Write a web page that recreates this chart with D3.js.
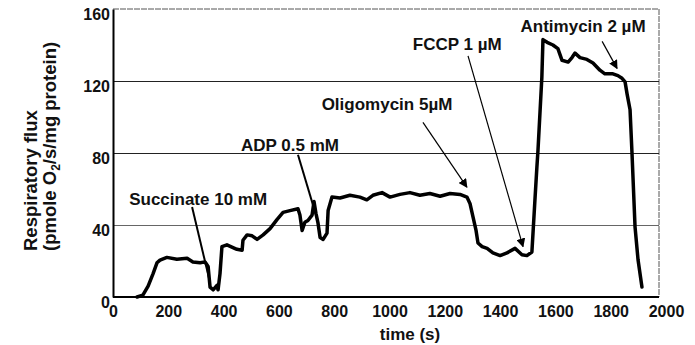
<!DOCTYPE html>
<html>
<head>
<meta charset="utf-8">
<script src="https://cdn.jsdelivr.net/npm/d3@7"></script>
<style>
  body { margin: 0; background: #fff; }
  svg { display: block; font-family: Arial, "Liberation Sans", sans-serif; }
  .tick text { font-weight: bold; }
</style>
</head>
<body>
<svg id="chart" width="695" height="345"></svg>
<script>
// trace: time (s) and respiratory flux
const times = [87, 108, 127, 145, 159, 170, 195, 231, 268, 289, 315, 333, 344, 351, 362, 376, 380, 387, 394, 412,
  448, 467, 470, 485, 503, 521, 543, 568, 593, 615, 640, 669, 676, 684, 694, 705, 720, 727, 734, 741,
  749, 760, 774, 778, 792, 821, 857, 893, 918, 940, 973, 1002, 1038, 1074, 1110, 1146, 1183, 1219, 1255, 1280,
  1291, 1302, 1313, 1320, 1335, 1353, 1374, 1400, 1425, 1454, 1479, 1497, 1515, 1519, 1526, 1533, 1537, 1551, 1555, 1570,
  1591, 1609, 1624, 1646, 1660, 1671, 1689, 1714, 1736, 1761, 1779, 1808, 1826, 1841, 1852, 1859, 1870, 1877, 1888, 1899, 1913];
const flux = [0, 1, 6, 13, 19, 20.5, 22, 21, 21.5, 19.5, 19, 19.5, 17, 5.5, 4, 6.5, 4, 13, 28, 29,
  26.5, 26, 31.5, 34.5, 34, 32, 34.5, 38, 43, 47, 48, 49, 45.5, 37, 41.5, 42.5, 45.5, 53, 46.5, 41.5,
  33, 32, 35.5, 48, 55.5, 55, 56.5, 55.5, 54, 56.5, 58, 55.5, 57, 58, 56.5, 57.5, 56, 57.5, 57, 55.5,
  52, 44.5, 37, 30, 28, 27, 24.5, 23, 24.5, 27, 23.5, 23, 25, 35.5, 54, 72, 81.5, 122, 143, 141.5,
  140, 138, 131.5, 130.5, 133, 135.5, 133, 132, 130, 126, 124, 124, 123, 121.5, 119.5, 113, 104, 80, 39, 20.5, 5.5];

const xTicks = [0, 200, 400, 600, 800, 1000, 1200, 1400, 1600, 1800, 2000];
const yTicks = [0, 40, 80, 120, 160];

// annotations: label position and arrow from/to, all in data units
const labels = ["Succinate 10 mM", "ADP 0.5 mM", "Oligomycin 5\u00b5M", "FCCP 1 \u00b5M", "Antimycin 2 \u00b5M"];
const labelAt = [[308, 51], [640, 81], [991, 104], [1245, 137], [1700, 147]];
const arrowFrom = [[286, 50], [669, 79], [1121, 97], [1284, 134], [1769, 142]];
const arrowTo = [[351, 8], [741, 42], [1280, 61], [1483, 28], [1823, 127]];
const arrowHead = [false, false, true, true, true];

const svg = d3.select('#chart');
const x = d3.scaleLinear().domain([0, 2000]).range([113, 666]);
const y = d3.scaleLinear().domain([0, 160]).range([297, 9]);
const plotRight = 659;

// frame + grid
svg.append('line').attr('x1', x(0)).attr('x2', plotRight).attr('y1', y(160)).attr('y2', y(160))
  .attr('stroke', '#555').attr('stroke-width', 1).attr('stroke-dasharray', '6,1');
svg.append('line').attr('x1', plotRight).attr('x2', plotRight).attr('y1', y(160)).attr('y2', y(0))
  .attr('stroke', '#555').attr('stroke-width', 1).attr('stroke-dasharray', '6,1');
svg.selectAll('.grid').data([40, 80, 120]).enter().append('line')
  .attr('x1', x(0)).attr('x2', plotRight)
  .attr('y1', d => Math.round(y(d)) + 0.5).attr('y2', d => Math.round(y(d)) + 0.5)
  .attr('stroke', d => d === 40 ? '#666' : '#222').attr('stroke-width', 1.2);

// axes
const xAxis = svg.append('g').attr('transform', `translate(0,${y(0)})`)
  .call(d3.axisBottom(x).tickValues(xTicks).tickSize(0).tickPadding(9).tickFormat(d3.format('d')));
xAxis.select('.domain').attr('d', `M${x(0)},0H${plotRight}`).attr('stroke-width', 2);
xAxis.selectAll('text').attr('font-size', 16).attr('fill', '#111');

const yAxis = svg.append('g').attr('transform', `translate(${x(0)},0)`)
  .call(d3.axisLeft(y).tickValues(yTicks).tickSize(0).tickPadding(3));
yAxis.select('.domain').attr('stroke-width', 2);
yAxis.selectAll('text').attr('font-size', 16).attr('fill', '#111').attr('dy', '0.65em');

// trace
const pts = times.map((t, i) => [t, flux[i]]);
svg.append('path').datum(pts)
  .attr('d', d3.line().x(d => x(d[0])).y(d => y(d[1])).curve(d3.curveLinear))
  .attr('fill', 'none').attr('stroke', '#000').attr('stroke-width', 3.5)
  .attr('stroke-linejoin', 'round').attr('stroke-linecap', 'round');

// arrows
svg.append('defs').append('marker').attr('id', 'head')
  .attr('viewBox', '0 0 10 10').attr('refX', 9).attr('refY', 5)
  .attr('markerWidth', 9).attr('markerHeight', 9).attr('markerUnits', 'userSpaceOnUse')
  .attr('orient', 'auto')
  .append('path').attr('d', 'M0,0L10,5L0,10z').attr('fill', '#000');

labels.forEach((lab, i) => {
  svg.append('line')
    .attr('x1', x(arrowFrom[i][0])).attr('y1', y(arrowFrom[i][1]))
    .attr('x2', x(arrowTo[i][0])).attr('y2', y(arrowTo[i][1]))
    .attr('stroke', '#000').attr('stroke-width', arrowHead[i] ? 1.2 : 2)
    .attr('marker-end', arrowHead[i] ? 'url(#head)' : null);
  svg.append('text')
    .attr('x', x(labelAt[i][0])).attr('y', y(labelAt[i][1]))
    .attr('text-anchor', 'middle').attr('font-size', 17).attr('font-weight', 'bold')
    .attr('fill', '#111').text(lab);
});

// axis titles
svg.append('text').attr('x', 410).attr('y', 340).attr('text-anchor', 'middle')
  .attr('font-size', 17).attr('font-weight', 'bold').attr('fill', '#111').text('time (s)');

const yt = svg.append('g').attr('font-size', 18.5).attr('font-weight', 'bold').attr('fill', '#111');
yt.append('text').attr('transform', 'translate(37,251) rotate(-90)').text('Respiratory flux');
const t2 = yt.append('text').attr('transform', 'translate(56,251) rotate(-90)');
t2.append('tspan').text('(pmole O');
t2.append('tspan').attr('font-size', 12).attr('dy', 4).text('2');
t2.append('tspan').attr('dy', -4).text('/s/mg protein)');
</script>
</body>
</html>
